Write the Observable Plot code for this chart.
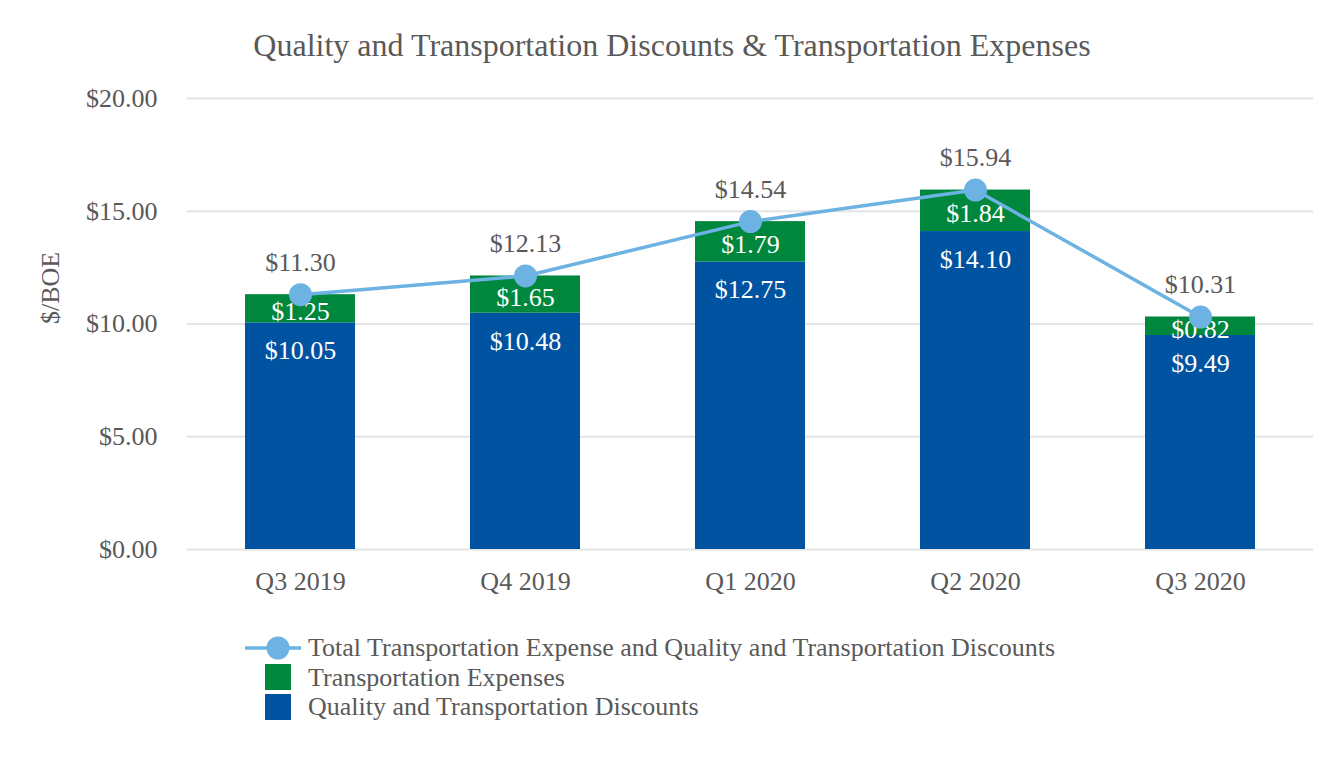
<!DOCTYPE html>
<html>
<head>
<meta charset="utf-8">
<script src="https://cdn.jsdelivr.net/npm/d3@7"></script>
<script src="https://cdn.jsdelivr.net/npm/@observablehq/plot@0.6"></script>
<style>
  body { margin: 0; background: #fff; font-family: "Liberation Serif", "Times New Roman", serif; }
  #wrap { position: relative; width: 1344px; height: 760px; }
  #title { position: absolute; top: 26px; left: 0; width: 1344px; text-align: center; font-size: 32px; line-height: 38px; color: #595959; }
  #chart { position: absolute; top: 75px; left: 0; }
  #legend { position: absolute; top: 633px; left: 245px; color: #595959; font-size: 26px; }
  .item { display: flex; align-items: center; height: 29.5px; line-height: 29.5px; }
  .item svg { flex: none; margin-right: 7px; }
</style>
</head>
<body>
<div id="wrap">
  <div id="title">Quality and Transportation Discounts &amp; Transportation Expenses</div>
  <div id="chart"></div>
  <div id="legend"></div>
</div>
<script>
const quarters = ["Q3 2019", "Q4 2019", "Q1 2020", "Q2 2020", "Q3 2020"];
const discounts = [10.05, 10.48, 12.75, 14.10, 9.49];
const expenses = [1.25, 1.65, 1.79, 1.84, 0.82];
const totals = [11.30, 12.13, 14.54, 15.94, 10.31];
const seriesNames = ["Total Transportation Expense and Quality and Transportation Discounts", "Transportation Expenses", "Quality and Transportation Discounts"];
const yTicks = [0, 5, 10, 15, 20];
const yLabel = "$/BOE";

const colLine = "#6cb2e2", colGreen = "#00873e", colBlue = "#0053a0", colText = "#595959";
const fmt = d => "$" + d.toFixed(2);

const barData = [];
quarters.forEach((q, i) => {
  barData.push({q, series: seriesNames[2], v: discounts[i], color: colBlue});
  barData.push({q, series: seriesNames[1], v: expenses[i], color: colGreen});
});
const totData = quarters.map((q, i) => ({q, v: totals[i]}));
const blueData = quarters.map((q, i) => ({q, v: discounts[i]}));
const greenData = quarters.map((q, i) => ({q, v: discounts[i] + expenses[i] / 2, label: expenses[i]}));

const plot = Plot.plot({
  width: 1344,
  height: 545,
  marginTop: 23,
  marginBottom: 71,
  marginLeft: 187,
  marginRight: 31,
  style: { fontFamily: "'Liberation Serif', 'Times New Roman', serif", color: colText, background: "#fff" },
  x: { domain: quarters, paddingInner: 0.51, paddingOuter: 0.255, label: null },
  y: { domain: [0, 20], ticks: yTicks, label: null },
  marks: [
    Plot.gridY(yTicks, { stroke: "#e4e4e4", strokeOpacity: 1, strokeWidth: 2 }),
    Plot.axisY(yTicks, { tickSize: 0, tickPadding: 30, tickFormat: fmt, fontSize: 26, fill: colText }),
    Plot.axisX({ tickSize: 0, tickPadding: 22, fontSize: 26, fill: colText }),
    Plot.text([yLabel], { frameAnchor: "left", rotate: -90, dx: -137, fontSize: 26, fill: colText }),
    Plot.barY(barData, Plot.stackY({ x: "q", y: "v", fill: "color" })),
    Plot.text(blueData, { x: "q", y: "v", text: d => fmt(d.v), dy: 28, fill: "#fff", fontSize: 26 }),
    Plot.text(greenData, { x: "q", y: "v", text: d => fmt(d.label), dy: 3, fill: "#fff", fontSize: 26 }),
    Plot.line(totData, { x: "q", y: "v", stroke: colLine, strokeWidth: 3.5 }),
    Plot.dot(totData, { x: "q", y: "v", r: 11.5, fill: colLine }),
    Plot.text(totData, { x: "q", y: "v", text: d => fmt(d.v), dy: -32, fill: colText, fontSize: 26 })
  ]
});
document.getElementById("chart").appendChild(plot);

// legend
const legend = document.getElementById("legend");
const swatches = [
  `<svg width="56" height="26"><line x1="0" y1="13" x2="56" y2="13" stroke="${colLine}" stroke-width="3.5"/><circle cx="33" cy="13" r="11.5" fill="${colLine}"/></svg>`,
  `<svg width="56" height="26"><rect x="20" y="0" width="26" height="26" fill="${colGreen}"/></svg>`,
  `<svg width="56" height="26"><rect x="20" y="0" width="26" height="26" fill="${colBlue}"/></svg>`
];
seriesNames.forEach((name, i) => {
  const div = document.createElement("div");
  div.className = "item";
  div.innerHTML = swatches[i];
  const span = document.createElement("span");
  span.textContent = name;
  div.appendChild(span);
  legend.appendChild(div);
});
</script>
</body>
</html>
